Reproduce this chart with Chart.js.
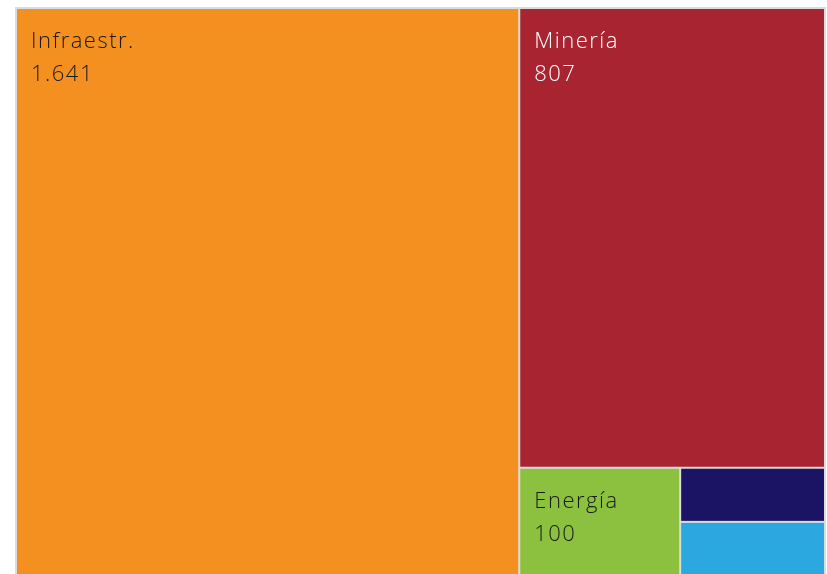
<!DOCTYPE html>
<html lang="es">
<head>
<meta charset="utf-8">
<title>Treemap</title>
<script src="https://cdn.jsdelivr.net/npm/chart.js@4"></script>
<style>
    html, body { margin: 0; padding: 0; background: #fff; overflow: hidden; }
    canvas { display: block; }
</style>
</head>
<body>
<canvas id="treemap" width="827" height="576"></canvas>
<script>
// Data (the two small cells carry no label)
const categories = ['Infraestr.', 'Minería', 'Energía', 'Otro A', 'Otro B'];
const values = [1641, 807, 100, 45, 45];

// Style
const colors = ['#f39020', '#a82430', '#8bc13f', '#1b1464', '#2ca8e0'];
const textColors = ['#1a1a1a', '#ffffff', '#1a1a1a', '#ffffff', '#ffffff'];
const frameColor = '#dcdcdc';

const total = values.reduce((a, b) => a + b, 0);

// Alternating strip layout in value space: x 0..total, y 0..1
function layoutCells() {
    let box = { x0: 0, x1: total, y0: 0, y1: 1 };
    let remaining = total;
    return values.map((v, i) => {
        const frac = i === values.length - 1 ? 1 : v / remaining;
        let cell;
        if (i % 2 === 0) {
            const cut = box.x0 + frac * (box.x1 - box.x0);
            cell = { x0: box.x0, x1: cut, y0: box.y0, y1: box.y1 };
            box = { ...box, x0: cut };
        } else {
            const cut = box.y0 + frac * (box.y1 - box.y0);
            cell = { x0: box.x0, x1: box.x1, y0: box.y0, y1: cut };
            box = { ...box, y0: cut };
        }
        remaining -= v;
        return { ...cell, label: categories[i], value: v, color: colors[i], text: textColors[i] };
    });
}

const formatNum = n => String(n).replace(/\B(?=(\d{3})+(?!\d))/g, '.');

const treemapPlugin = {
    id: 'treemap',
    beforeDatasetsDraw(chart) {
        const { ctx, chartArea: a, scales: { x, y } } = chart;
        ctx.save();
        ctx.fillStyle = frameColor;
        ctx.fillRect(a.left - 1, a.top - 1, a.right - a.left + 2, a.bottom - a.top + 2);

        layoutCells().forEach(c => {
            const px0 = x.getPixelForValue(c.x0);
            const px1 = x.getPixelForValue(c.x1);
            const py0 = y.getPixelForValue(c.y0);
            const py1 = y.getPixelForValue(c.y1);
            ctx.fillStyle = c.color;
            ctx.fillRect(px0 + 1, py0 + 1, px1 - px0 - 2, py1 - py0 - 2);

            // only cells big enough get a label
            if (px1 - px0 > 100 && py1 - py0 > 80) {
                ctx.fillStyle = c.text;
                ctx.font = '300 22px "Open Sans", "Noto Sans", sans-serif';
                ctx.letterSpacing = '1.5px';
                ctx.textAlign = 'left';
                ctx.textBaseline = 'alphabetic';
                ctx.fillText(c.label, px0 + 15, py0 + 40);
                ctx.fillText(formatNum(c.value), px0 + 15, py0 + 73);
            }
        });
        ctx.restore();
    }
};

new Chart(document.getElementById('treemap'), {
    type: 'scatter',
    data: { datasets: [{ data: [] }] },
    options: {
        responsive: false,
        animation: false,
        devicePixelRatio: 1,
        layout: { padding: { left: 16, top: 8, right: 2, bottom: 0 } },
        plugins: { legend: { display: false }, tooltip: { enabled: false } },
        scales: {
            x: { type: 'linear', min: 0, max: total, display: false },
            y: { type: 'linear', min: 0, max: 1, reverse: true, display: false }
        }
    },
    plugins: [treemapPlugin]
});
</script>
</body>
</html>
